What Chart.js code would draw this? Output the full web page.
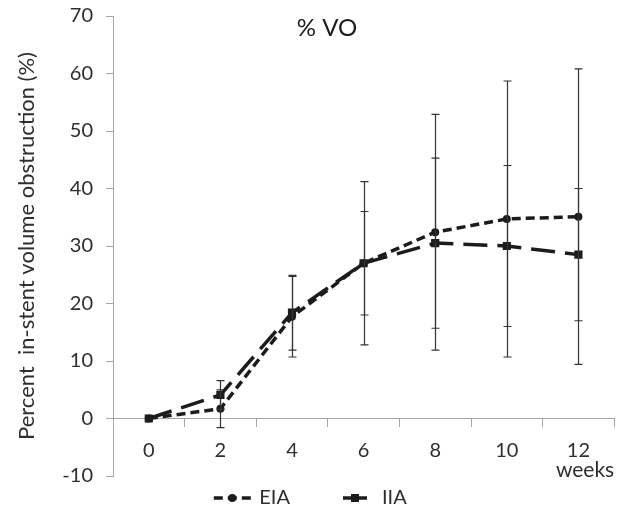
<!DOCTYPE html>
<html>
<head>
<meta charset="utf-8">
<script src="https://cdn.jsdelivr.net/npm/chart.js@4.4.1/dist/chart.umd.min.js"></script>
<style>
  html, body { margin: 0; padding: 0; background: #fff; }
  .chart-box { width: 620px; height: 510px; }
</style>
</head>
<body>
<div class="chart-box"><canvas id="vo"></canvas></div>
<script>
// weeks after implant
const weeks = ['0', '2', '4', '6', '8', '10', '12'];
// mean % VO and +/- error
const eiaMean = [0, 1.7, 17.7, 27, 32.4, 34.7, 35.1];
const eiaErr = [0, 3.3, 7, 14.2, 20.5, 24, 25.7];
const iiaMean = [0, 4.1, 18.4, 27, 30.5, 30, 28.5];
const iiaErr = [0, 2.5, 6.5, 9, 14.8, 14, 11.5];
const yTicks = [-10, 0, 10, 20, 30, 40, 50, 60, 70];

const FONT = 'Lato';
const INK = '#1c1c1c';
const TEXT = '#2e2e2e';
const AXIS = '#a6a6a6';

// vertical error bars with caps
const errorBars = {
  id: 'errorBars',
  afterDatasetsDraw(chart) {
    const { ctx, scales: { x, y } } = chart;
    ctx.save();
    ctx.strokeStyle = '#333';
    ctx.lineWidth = 1.2;
    chart.data.datasets.forEach(ds => {
      ds.data.forEach((v, i) => {
        const e = ds.errors[i];
        if (!e) return;
        const px = Math.round(x.getPixelForValue(i)) + 0.5;
        const top = y.getPixelForValue(v + e);
        const bot = y.getPixelForValue(v - e);
        ctx.beginPath();
        ctx.moveTo(px, top); ctx.lineTo(px, bot);
        ctx.moveTo(px - 4, top); ctx.lineTo(px + 4, top);
        ctx.moveTo(px - 4, bot); ctx.lineTo(px + 4, bot);
        ctx.stroke();
      });
    });
    ctx.restore();
  }
};

// "% VO" sits inside the plot area
const plotTitle = {
  id: 'plotTitle',
  afterDraw(chart) {
    const { ctx, chartArea } = chart;
    ctx.save();
    ctx.font = '24px ' + FONT;
    ctx.fillStyle = INK;
    ctx.textAlign = 'center';
    ctx.textBaseline = 'middle';
    ctx.fillText('% VO', chartArea.left + 214, chartArea.top + 12);
    ctx.restore();
  }
};

// legend with dashed line samples + marker
const lineLegend = {
  id: 'lineLegend',
  afterDraw(chart) {
    const { ctx } = chart;
    const sample = 38, gap = 8, spacing = 46;
    ctx.save();
    ctx.font = '20px ' + FONT;
    const items = chart.data.datasets.map(ds => ({ ds, w: sample + gap + ctx.measureText(ds.label).width }));
    const total = items.reduce((s, it) => s + it.w, 0) + spacing * (items.length - 1);
    let x = chart.width / 2 - total / 2;
    const yc = chart.height - 12;
    items.forEach(({ ds, w }) => {
      ctx.strokeStyle = ds.borderColor;
      ctx.lineWidth = ds.borderWidth;
      ctx.setLineDash(ds.borderDash);
      // centre the first dash in the sample
      ctx.lineDashOffset = -Math.max(0, (sample - ds.borderDash[0]) / 2) % (ds.borderDash[0] + ds.borderDash[1]);
      ctx.beginPath();
      ctx.moveTo(x, yc); ctx.lineTo(x + sample, yc);
      ctx.stroke();
      ctx.setLineDash([]);
      ctx.fillStyle = ds.pointBackgroundColor;
      const cx = x + sample / 2;
      ctx.beginPath();
      if (ds.pointStyle === 'rect') ctx.rect(cx - 4, yc - 4, 8, 8);
      else ctx.arc(cx, yc, ds.pointRadius, 0, Math.PI * 2);
      ctx.fill();
      ctx.fillStyle = TEXT;
      ctx.textAlign = 'left';
      ctx.textBaseline = 'middle';
      ctx.fillText(ds.label, x + sample + gap, yc);
      x += w + spacing;
    });
    ctx.restore();
  }
};

new Chart(document.getElementById('vo'), {
  type: 'line',
  data: {
    labels: weeks,
    datasets: [
      {
        label: 'EIA',
        data: eiaMean,
        errors: eiaErr,
        borderColor: INK,
        borderWidth: 3.5,
        borderDash: [9, 5],
        pointStyle: 'circle',
        pointRadius: 4,
        pointBackgroundColor: INK,
        pointBorderWidth: 0,
        tension: 0
      },
      {
        label: 'IIA',
        data: iiaMean,
        errors: iiaErr,
        borderColor: INK,
        borderWidth: 3.5,
        borderDash: [24, 10],
        pointStyle: 'rect',
        pointRadius: 5.8,
        pointBackgroundColor: INK,
        pointBorderWidth: 0,
        tension: 0
      }
    ]
  },
  options: {
    responsive: true,
    maintainAspectRatio: false,
    animation: false,
    layout: {
      padding: { top: 16, right: 4, bottom: 34, left: 0 }
    },
    plugins: {
      legend: { display: false },
      tooltip: { enabled: false }
    },
    scales: {
      x: {
        type: 'category',
        position: { y: 0 },
        offset: true,
        grid: {
          offset: true,
          drawOnChartArea: false,
          color: AXIS,
          tickLength: 8
        },
        border: { color: AXIS, width: 1 },
        ticks: {
          color: TEXT,
          padding: 12,
          font: { family: FONT, size: 20 }
        },
        title: {
          display: true,
          text: 'weeks',
          align: 'end',
          color: TEXT,
          padding: { top: -17, bottom: 0 },
          font: { family: FONT, size: 21 }
        }
      },
      y: {
        min: -10,
        max: 70,
        afterBuildTicks(scale) {
          scale.ticks = yTicks.map(v => ({ value: v }));
        },
        afterFit(scale) {
          scale.width = 113;
          // let the plot start right at the top padding
          scale.paddingTop = 8;
          scale.paddingBottom = 8;
        },
        grid: {
          drawOnChartArea: false,
          color: AXIS,
          tickLength: 7
        },
        border: { color: AXIS, width: 1 },
        ticks: {
          color: TEXT,
          padding: 13,
          font: { family: FONT, size: 20 }
        },
        title: {
          display: true,
          text: 'Percent  in-stent volume obstruction (%)',
          color: TEXT,
          padding: { top: 14, bottom: 0 },
          font: { family: FONT, size: 22 }
        }
      }
    }
  },
  plugins: [errorBars, plotTitle, lineLegend]
});
</script>
</body>
</html>
